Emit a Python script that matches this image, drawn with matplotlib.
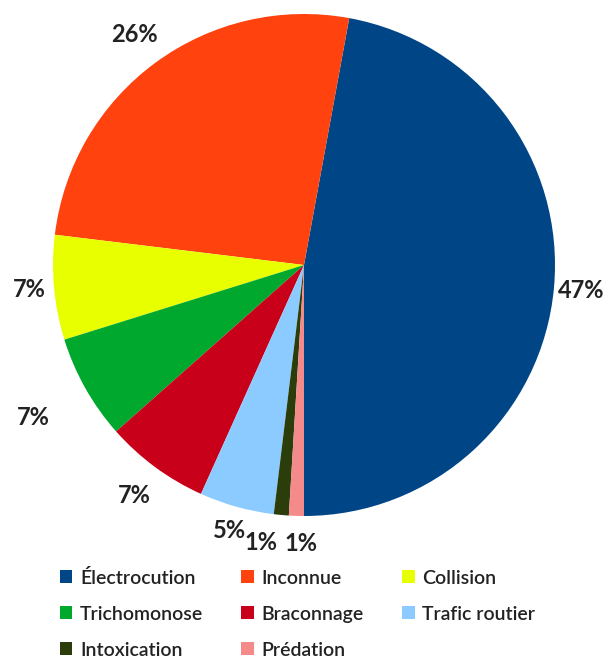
#Pie chart of causes of death, recreated with matplotlib

import numpy as np
import matplotlib.pyplot as plt

#Input data
causes = ['Électrocution', 'Inconnue', 'Collision', 'Trichomonose',
          'Braconnage', 'Trafic routier', 'Intoxication', 'Prédation']
counts = [49, 27, 7, 7, 7, 5, 1, 1]
colors = ['#004586', '#ff420e', '#e8ff00', '#00a82d',
          '#c9001a', '#8ccbff', '#2b3d0a', '#f58a8a']
#distance of each percent label from the centre (in radii)
label_dist = [1.11, 1.14, 1.10, 1.24, 1.14, 1.10, 1.11, 1.11]

plt.rcParams['font.family'] = ['Lato', 'DejaVu Sans']

fig = plt.figure(figsize=(6.15, 6.61), dpi=100)
ax = fig.add_axes([53/615, 145/661, 502/615, 502/661])

total = sum(counts)
pct_labels = ['%d%%' % round(100*c/total) for c in counts]

wedges, texts = ax.pie(counts, colors=colors, startangle=-90,
                       counterclock=True, labels=pct_labels,
                       labeldistance=1.1,
                       wedgeprops=dict(linewidth=0))

#place percent labels centred outside each slice
for i, (w, t, d) in enumerate(zip(wedges, texts, label_dist)):
    ang = np.deg2rad((w.theta1 + w.theta2)/2)
    x, y = d*np.cos(ang), d*np.sin(ang)
    if i == 6:
        x -= 0.07   #keep the two 1% labels apart
    if i == 7:
        x += 0.02
    t.set_position((x, y))
    t.set_ha('center')
    t.set_va('center')
    t.set_fontsize(17)
    t.set_fontweight('bold')
    t.set_color('#222222')

ax.set_xlim(-1, 1)
ax.set_ylim(-1, 1)
ax.axis('off')

#legend filled row by row (matplotlib fills columns)
order = [0, 3, 6, 1, 4, 7, 2, 5]
leg = fig.legend([wedges[i] for i in order], [causes[i] for i in order],
                 ncol=3, loc='lower left', bbox_to_anchor=(52/615, -0.008),
                 frameon=False, fontsize=14, handlelength=0.65,
                 handleheight=0.65, handletextpad=0.4, columnspacing=1.95,
                 labelspacing=0.97, borderaxespad=0.0)
for txt in leg.get_texts():
    txt.set_color('#222222')
    txt.set_fontweight('semibold')

plt.savefig('out.png', dpi=100)
